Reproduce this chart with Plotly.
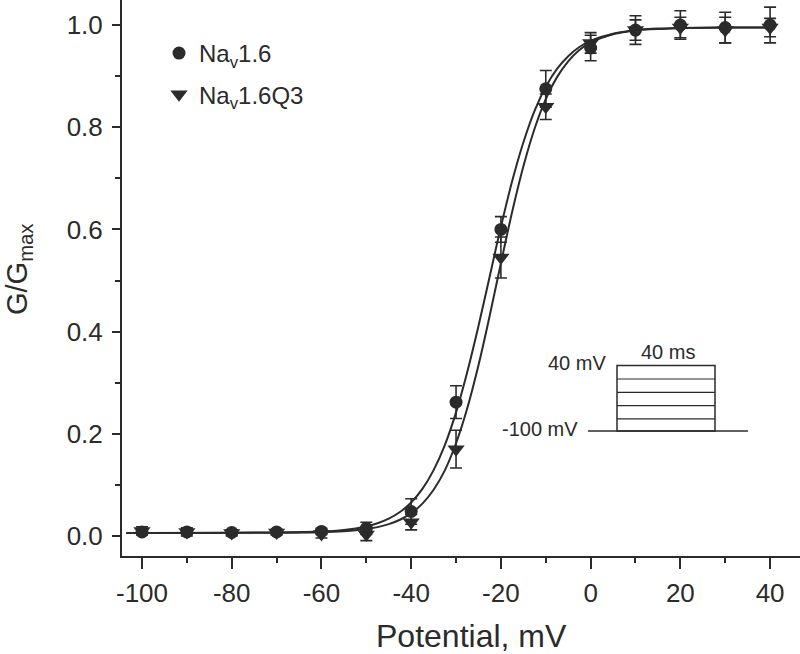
import plotly.graph_objects as go

# ---------------- data ----------------
potential = [-100, -90, -80, -70, -60, -50, -40, -30, -20, -10, 0, 10, 20, 30, 40]

nav16_g = [0.008, 0.008, 0.007, 0.008, 0.009, 0.015, 0.048, 0.262, 0.600, 0.875, 0.955, 0.990, 1.000, 0.995, 1.000]
nav16_err = [0.005, 0.005, 0.005, 0.005, 0.006, 0.012, 0.025, 0.032, 0.025, 0.036, 0.025, 0.028, 0.028, 0.030, 0.035]

q3_g = [0.010, 0.008, 0.006, 0.007, 0.004, 0.003, 0.027, 0.170, 0.545, 0.840, 0.965, 0.990, 0.995, 0.990, 0.995]
q3_err = [0.008, 0.008, 0.006, 0.005, 0.008, 0.012, 0.015, 0.037, 0.040, 0.025, 0.020, 0.020, 0.020, 0.025, 0.018]

# fitted Boltzmann curves
fit_v = [-103.5, -60, -55, -50, -47.5, -45, -42.5, -40, -37.5, -35, -32.5, -30, -27.5, -25,
         -22.5, -20, -17.5, -15, -12.5, -10, -7.5, -5, -2.5, 0, 2.5, 5, 7.5, 10, 15, 20, 30, 41]
fit_nav16 = [0.006, 0.0087, 0.0118, 0.0188, 0.0249, 0.0339, 0.0469, 0.0656, 0.0921, 0.129, 0.178,
             0.242, 0.321, 0.411, 0.508, 0.605, 0.694, 0.770, 0.832, 0.879, 0.914, 0.939, 0.957,
             0.969, 0.977, 0.983, 0.987, 0.990, 0.993, 0.994, 0.995, 0.995]
fit_q3 = [0.006, 0.0074, 0.0093, 0.0136, 0.0174, 0.0232, 0.0318, 0.0447, 0.0634, 0.0906, 0.1285,
          0.1815, 0.250, 0.334, 0.431, 0.534, 0.634, 0.723, 0.797, 0.855, 0.898, 0.929, 0.951,
          0.966, 0.975, 0.982, 0.986, 0.990, 0.992, 0.994, 0.995, 0.995]

x_ticks = [-100, -80, -60, -40, -20, 0, 20, 40]
x_tick_labels = ["-100", "-80", "-60", "-40", "-20", "0", "20", "40"]
y_ticks = [0.0, 0.2, 0.4, 0.6, 0.8, 1.0]
y_tick_labels = ["0.0", "0.2", "0.4", "0.6", "0.8", "1.0"]

INK = "#2b2b2b"
FONT = "Liberation Sans, Arial, Helvetica, sans-serif"

# plot-area geometry (pixels) used for placing decorations
W, H = 800, 654
L, R, T, B = 122, 0, 0, 98
PW, PH = W - L - R, H - T - B


def px(xp):
    return (xp - L) / PW


def py(yp):
    return (H - B - yp) / PH


fig = go.Figure()

fig.add_trace(go.Scatter(x=fit_v, y=fit_nav16, mode="lines", line=dict(color=INK, width=2, shape="spline"),
                         showlegend=False, hoverinfo="skip"))
fig.add_trace(go.Scatter(x=fit_v, y=fit_q3, mode="lines", line=dict(color=INK, width=2, shape="spline"),
                         showlegend=False, hoverinfo="skip"))

fig.add_trace(go.Scatter(
    x=potential, y=q3_g, mode="markers", name="Na<sub>v</sub>1.6Q3", legendgroup="b", legendrank=2,
    marker=dict(symbol="triangle-down", size=15, color=INK),
    error_y=dict(type="data", array=q3_err, color=INK, thickness=1.6, width=6)))
fig.add_trace(go.Scatter(
    x=potential, y=nav16_g, mode="markers", name="Na<sub>v</sub>1.6", legendgroup="a", legendrank=1,
    marker=dict(symbol="circle", size=13, color=INK),
    error_y=dict(type="data", array=nav16_err, color=INK, thickness=1.6, width=6)))

shapes = []
line_style = dict(color=INK, width=1.5)
# inset: stimulation protocol
shapes.append(dict(type="line", xref="paper", yref="paper", x0=px(588), x1=px(748), y0=py(431), y1=py(431), line=line_style))
shapes.append(dict(type="rect", xref="paper", yref="paper", x0=px(617), x1=px(715), y0=py(431), y1=py(365.5), line=line_style))
for yy in [379, 392.3, 405.6, 418.9]:
    shapes.append(dict(type="line", xref="paper", yref="paper", x0=px(617), x1=px(715), y0=py(yy), y1=py(yy),
                       line=dict(color=INK, width=1.2)))

annotations = [
    dict(text="Potential, mV", xref="paper", yref="paper", x=px(472), y=py(636), showarrow=False,
         xanchor="center", yanchor="middle", font=dict(size=32, color=INK, family=FONT)),
    dict(text="G/G<sub>max</sub>", xref="paper", yref="paper", x=px(19), y=py(269), showarrow=False,
         textangle=-90, xanchor="center", yanchor="middle", font=dict(size=29, color=INK, family=FONT)),
    dict(text="40 ms", xref="paper", yref="paper", x=px(668), y=py(352), showarrow=False,
         xanchor="center", yanchor="middle", font=dict(size=20, color=INK, family=FONT)),
    dict(text="40 mV", xref="paper", yref="paper", x=px(608), y=py(363), showarrow=False,
         xanchor="right", yanchor="middle", font=dict(size=20, color=INK, family=FONT)),
    dict(text="-100 mV", xref="paper", yref="paper", x=px(580), y=py(429), showarrow=False,
         xanchor="right", yanchor="middle", font=dict(size=20, color=INK, family=FONT)),
]

fig.update_layout(
    width=W, height=H,
    margin=dict(l=L, r=R, t=T, b=B, autoexpand=False),
    paper_bgcolor="white", plot_bgcolor="white",
    font=dict(family=FONT, color=INK),
    shapes=shapes, annotations=annotations,
    legend=dict(x=px(159), y=py(31), xanchor="left", yanchor="top", traceorder="grouped",
                font=dict(size=24, color=INK, family=FONT), bgcolor="rgba(0,0,0,0)",
                tracegroupgap=7, itemsizing="trace"),
    xaxis=dict(range=[-104.46, 46.67], tickvals=x_ticks, ticktext=x_tick_labels, ticks="outside", ticklen=11,
               tickwidth=2, automargin=False,
               tickcolor=INK, showline=True, linecolor=INK, linewidth=2, showgrid=False, zeroline=False,
               tickfont=dict(size=26, color=INK, family=FONT), ticklabelstandoff=2,
               minor=dict(dtick=10, ticks="outside", ticklen=5, tickwidth=2, tickcolor=INK)),
    yaxis=dict(range=[-0.0391, 1.0489], tickvals=y_ticks, ticktext=y_tick_labels, ticks="outside", ticklen=8,
               tickwidth=2, tickcolor=INK, showline=True, linecolor=INK, linewidth=2, showgrid=False,
               zeroline=False, automargin=False, tickfont=dict(size=26, color=INK, family=FONT), ticklabelstandoff=4,
               minor=dict(tick0=0.1, dtick=0.2, ticks="outside", ticklen=5, tickwidth=2, tickcolor=INK)),
)

fig.write_html("out.html", config={"displayModeBar": False},
               post_script="document.body.style.margin='0';document.body.style.overflow='hidden';")
